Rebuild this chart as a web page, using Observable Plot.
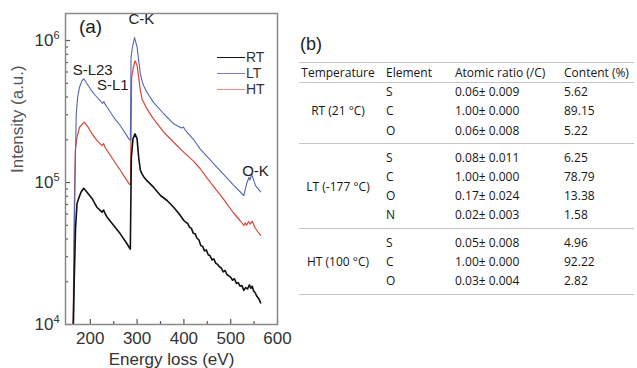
<!DOCTYPE html>
<html><head><meta charset="utf-8">
<script src="https://cdn.jsdelivr.net/npm/d3@7"></script>
<script src="https://cdn.jsdelivr.net/npm/@observablehq/plot@0.6"></script>
<style>
body{margin:0;background:#fff;}
#wrap{position:relative;width:637px;height:368px;overflow:hidden;font-family:"Liberation Sans",Arial,sans-serif;}
#plot{position:absolute;left:0;top:0;}
.lg{position:absolute;white-space:nowrap;font-size:14px;color:#333;line-height:14px;}
.ln{position:absolute;height:0;width:28px;border-top:1.3px solid;}
.cell{position:absolute;white-space:nowrap;transform:translateY(-50%);font-family:"Open Sans",sans-serif;font-size:12px;color:#161616;line-height:14px;}
.ctr{transform:translate(-50%,-50%);}
.rule{position:absolute;left:299px;width:335px;height:0;border-top:1.5px solid #c6c6c6;}
.lab{position:absolute;font-size:18px;color:#222;}
</style></head><body><div id="wrap"><div id="plot"></div></div>
<script>
// ---- Data ----
const xMajor = [200, 300, 400, 500, 600];
const xMinor = [250, 350, 450, 550];
const yMajor = [1e4, 1e5, 1e6];
const yMinor = [2e4,3e4,4e4,5e4,6e4,7e4,8e4,9e4,2e5,3e5,4e5,5e5,6e5,7e5,8e5,9e5];

// LT (blue)
const ltE = [164,165.8,167.3,170,172.9,177,182,186,191,200,211,221,226,229,232,236,250,264,278,283.5,285.6,287,290,294.5,300,303.5,307,310.5,314,321,335,357,378,395,399,402,421,435,471,506,528,534,539,541,545,553,564];
const ltI = [8e3,3.7e4,1.09e5,3.05e5,4.0e5,4.69e5,5.2e5,5.37e5,5.08e5,4.57e5,4.1e5,3.77e5,3.6e5,3.72e5,3.55e5,3.39e5,2.88e5,2.52e5,2.14e5,2.0e5,2.0e5,7.6e5,8.97e5,1.05e6,8.97e5,7.2e5,5.82e5,5.2e5,4.8e5,4.32e5,3.67e5,3.05e5,2.59e5,2.42e5,2.46e5,2.36e5,2.0e5,1.72e5,1.28e5,9.6e4,8.1e4,9.8e4,1.09e5,1.04e5,1.14e5,9.5e4,8.6e4];

// HT (red)
const htE = [163,165.8,168,171.6,177,187,193,204,214,225,228.5,232,236,250,264,278.5,284,286,288.3,291.2,295.5,300,303.4,307,310.5,314,321,335,357,378,400,421,435,450,485,506,520,528,531,534,538,542,546,552,558,564];
const htI = [8e3,6.35e4,1.68e5,2.09e5,2.45e5,2.66e5,2.52e5,2.2e5,1.98e5,1.82e5,1.88e5,1.75e5,1.68e5,1.43e5,1.22e5,1.03e5,9.7e4,9.7e4,5.5e5,6.3e5,7.2e5,6.67e5,5.5e5,4.45e5,3.88e5,3.68e5,3.3e5,2.81e5,2.26e5,1.92e5,1.63e5,1.41e5,1.25e5,1.07e5,7.6e4,6.1e4,5.4e4,4.98e4,5.2e4,5.0e4,5.3e4,5.1e4,5.35e4,4.8e4,4.5e4,4.24e4];

// RT (black)
const rtE = [163,165.8,168.5,171.6,175,180,186,193,204,214,225,228.5,232,236,250,264,278.5,284,285.5,287.7,291.2,295.5,300,303.4,307,310.5,314,321,335,350,364,378,390,400,404,408,412,416,420,424,428,432,436,440,444,448,452,456,460,464,468,472,476,480,484,488,492,496,500,504,508,512,516,520,524,528,532,536,540,543,546,549,552,556,560,564];
const rtI = [8e3,2.15e4,4.8e4,7.08e4,7.7e4,8.55e4,9.1e4,8.55e4,7.7e4,6.7e4,6.18e4,6.4e4,6.0e4,5.7e4,4.98e4,4.35e4,3.7e4,3.45e4,3.4e4,1.5e5,2.03e5,2.2e5,2.03e5,1.5e5,1.22e5,1.15e5,1.1e5,1.03e5,9.27e4,8.1e4,7.47e4,6.7e4,6.0e4,5.4e4,5.25e4,5.15e4,4.85e4,4.75e4,4.4e4,4.35e4,4.05e4,3.95e4,3.6e4,3.55e4,3.3e4,3.35e4,3.1e4,3.05e4,2.85e4,2.9e4,2.7e4,2.65e4,2.55e4,2.5e4,2.35e4,2.4e4,2.25e4,2.2e4,2.15e4,2.05e4,2.1e4,1.95e4,1.97e4,1.86e4,1.88e4,1.74e4,1.82e4,1.78e4,1.9e4,1.8e4,1.86e4,1.72e4,1.68e4,1.58e4,1.52e4,1.42e4];

const seriesNames = ["RT", "LT", "HT"];
const seriesColors = ["#111111", "#5566b0", "#d8453a"];
const legendColors = ["#111111", "#6f7fc0", "#e8907f"];

// annotations (anchored in data units)
const annText = ["S-L23", "S-L1", "C-K", "O-K"];
const annE = [205, 248, 309, 553];
const annI = [6.15e5, 4.86e5, 1.41e6, 1.2e5];

// table
const tableHeader = ["Temperature", "Element", "Atomic ratio (/C)", "Content (%)"];
const tempLabels = ["RT (21 °C)", "LT (-177 °C)", "HT (100 °C)"];
const elements = [["S","C","O"], ["S","C","O","N"], ["S","C","O"]];
const ratios = [["0.06± 0.009","1.00± 0.000","0.06± 0.008"], ["0.08± 0.011","1.00± 0.000","0.17± 0.024","0.02± 0.003"], ["0.05± 0.008","1.00± 0.000","0.03± 0.004"]];
const contents = [["5.62","89.15","5.22"], ["6.25","78.79","13.38","1.58"], ["4.96","92.22","2.82"]];

// ---- Build ----
const toRows = (E, I) => E.map((e, i) => ({e, v: I[i]}));
const rt = toRows(rtE, rtI), lt = toRows(ltE, ltI), ht = toRows(htE, htI);
const ann = annText.map((t, i) => ({t, e: annE[i], v: annI[i]}));

const frameW = 212, frameH = 311;
const chart = Plot.plot({
  width: 300, height: 368,
  marginLeft: 65, marginRight: 23, marginTop: 13, marginBottom: 44,
  style: {fontFamily: "Liberation Sans, Arial, sans-serif", fontSize: "17px", color: "#333", background: "transparent"},
  x: {domain: [147, 600], label: null},
  y: {type: "log", domain: [1e4, 1.55e6], label: null},
  marks: [
    Plot.axisX({ticks: xMajor, tickSize: 0, tickPadding: 7, tickFormat: d => String(d), label: null, fontSize: 17}),
    Plot.axisY({ticks: yMajor, tickSize: 0, tickPadding: 6, tickFormat: d => "10|" + Math.round(Math.log10(d)), label: null, fontSize: 17}),
    Plot.tickX(xMajor, {x: d => d, insetTop: frameH - 5, stroke: "#555", strokeWidth: 1.2}),
    Plot.tickX(xMinor, {x: d => d, insetTop: frameH - 3, stroke: "#555", strokeWidth: 1.2}),
    Plot.tickY(yMajor, {y: d => d, insetRight: frameW - 5, stroke: "#555", strokeWidth: 1.2}),
    Plot.tickY(yMinor, {y: d => d, insetRight: frameW - 3, stroke: "#555", strokeWidth: 1.2}),
    Plot.line(ht, {x: "e", y: "v", stroke: seriesColors[2], strokeWidth: 1.2, clip: true}),
    Plot.line(lt, {x: "e", y: "v", stroke: seriesColors[1], strokeWidth: 1.1, clip: true}),
    Plot.line(rt, {x: "e", y: "v", stroke: seriesColors[0], strokeWidth: 1.6, clip: true}),
    Plot.frame({stroke: "#8a8a8a", strokeWidth: 1.5}),
    Plot.text(ann, {x: "e", y: "v", text: "t", fontSize: 15, fill: "#222"}),
    Plot.text(["(a)"], {frameAnchor: "top-left", dx: 25, dy: 13, fontSize: 19, fill: "#222", textAnchor: "middle", lineAnchor: "middle"}),
    Plot.text(["Intensity (a.u.)"], {frameAnchor: "left", rotate: -90, dx: -48, dy: 4, fontSize: 17, fill: "#555"}),
    Plot.text(["Energy loss (eV)"], {frameAnchor: "bottom", dy: 35, fontSize: 17, fill: "#333", lineAnchor: "middle"})
  ]
});
d3.select(chart).selectAll('g[aria-label="y-axis tick label"] text').each(function () {
  const t = this.textContent;
  if (!t.includes("|")) return;
  const [b, p] = t.split("|");
  this.textContent = b;
  d3.select(this).append("tspan").attr("dy", "-0.6em").attr("font-size", "11px").text(p);
});
document.getElementById("plot").appendChild(chart);

const wrap = document.getElementById("wrap");
function add(cls, html, style) {
  const d = document.createElement("div");
  d.className = cls; d.innerHTML = html; Object.assign(d.style, style); wrap.appendChild(d); return d;
}
// legend
seriesNames.forEach((n, i) => {
  const y = 57 + i * 16;
  add("ln", "", {left: "217px", top: (y) + "px", borderTopColor: legendColors[i]});
  add("lg", n, {left: "246px", top: (y - 7) + "px"});
});
// (b)
add("lab", "(b)", {left: "300px", top: "34px"});
// table layout
const colX = [338, 386, 455, 564];
const headerY = 73, pitch = 19.2, gap = 8;
add("rule", "", {top: "62px"});
tableHeader.forEach((h, j) => add(j === 0 ? "cell ctr" : "cell", h, {left: colX[j] + "px", top: headerY + "px"}));
add("rule", "", {top: "82px"});
let y = headerY;
tempLabels.forEach((tl, g) => {
  const ys = [];
  elements[g].forEach((el, r) => {
    y += pitch + (g > 0 && r === 0 ? gap : 0);
    ys.push(y);
    add("cell", el, {left: colX[1] + "px", top: y + "px"});
    add("cell", ratios[g][r], {left: colX[2] + "px", top: y + "px"});
    add("cell", contents[g][r], {left: colX[3] + "px", top: y + "px"});
  });
  const mid = (ys[0] + ys[ys.length - 1]) / 2;
  add("cell ctr", tl, {left: colX[0] + "px", top: mid + "px"});
  add("rule", "", {top: (ys[ys.length - 1] + (pitch + gap) / 2 - 1) + "px"});
});
</script></body></html>
